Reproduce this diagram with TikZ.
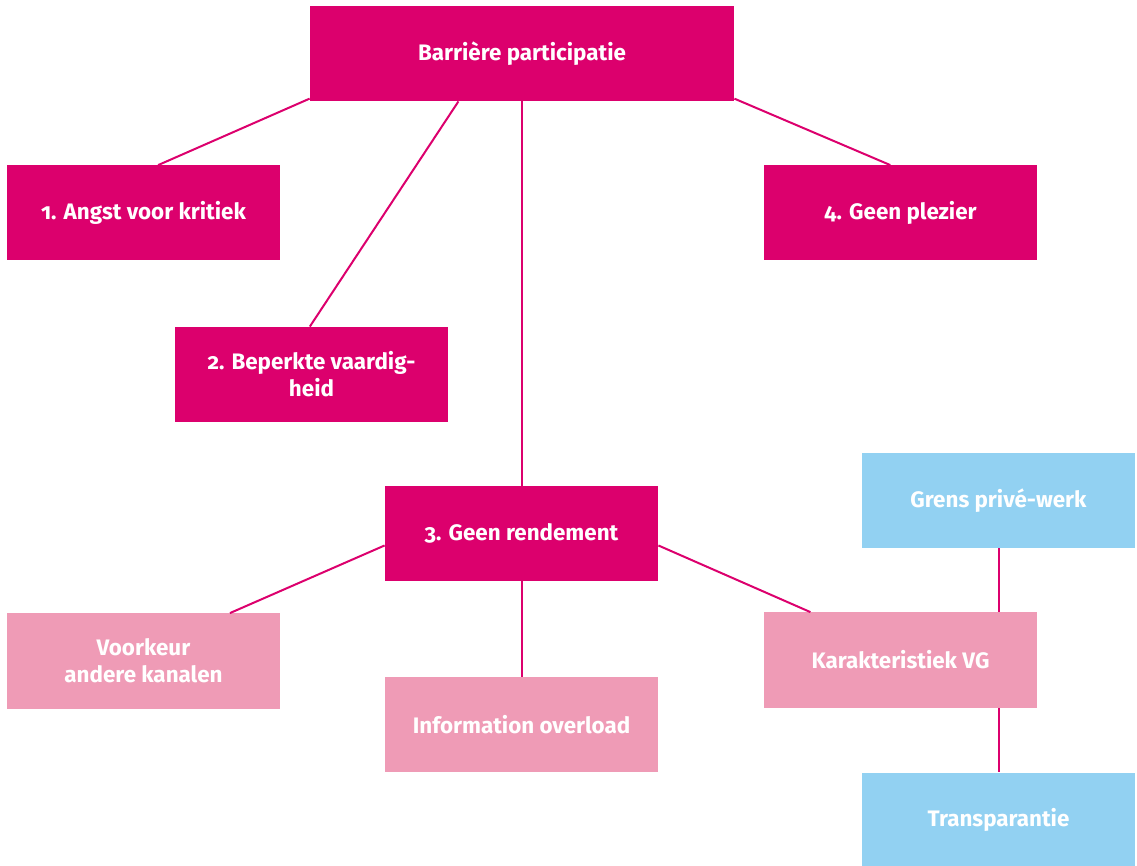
\documentclass[tikz,border=0pt]{standalone}
\usepackage{fontspec}
\setmainfont{Fira Sans}[Numbers=OldStyle]
\definecolor{magenta}{HTML}{DC006D}
\definecolor{roze}{HTML}{EF9BB6}
\definecolor{lichtblauw}{HTML}{92D1F2}
\tikzset{
  blok/.style={fill=magenta, text=white, font=\bfseries\fontsize{11.2}{13.5}\selectfont,
    minimum width=136.5pt, minimum height=47.5pt, align=center, inner sep=0pt},
  subblok/.style={blok, fill=roze},
  blauwblok/.style={blok, fill=lichtblauw},
  lijn/.style={draw=magenta, line width=1pt}
}
\begin{document}
\begin{tikzpicture}[x=0.5pt,y=-0.5pt]
\useasboundingbox (0,0) rectangle (1137,866);
\node[blok, minimum width=212pt] (top) at (522,53.5) {Barrière participatie};
\node[blok] (angst) at (143.5,213) {1. Angst voor kritiek};
\node[blok] (vaardig) at (311.5,374.5) {2. Beperkte vaardig-\\heid};
\node[blok] (rendement) at (521.5,533.5) {3. Geen rendement};
\node[blok] (plezier) at (900.5,213) {4. Geen plezier};
\node[subblok] (voorkeur) at (143.5,661) {Voorkeur\\andere kanalen};
\node[subblok] (overload) at (521.5,724.5) {Information overload};
\node[subblok] (karak) at (900.5,660) {Karakteristiek VG};
\node[blauwblok] (grens) at (998.5,500.5) {Grens privé-werk};
\node[blauwblok] (transp) at (998.5,820) {Transparantie};
% barrieres
\draw[lijn] (top.192) -- (angst.73);
\draw[lijn] (top.217) -- (vaardig.92);
\draw[lijn] (rendement.north |- top.south) -- (rendement.north);
\draw[lijn] (top.348) -- (plezier.102);
% rendement
\draw[lijn] (rendement.185) -- (voorkeur.29);
\draw[lijn] (rendement.south) -- (overload.north);
\draw[lijn] (rendement.355) -- (karak.152);
\draw[lijn] (grens.south) -- (grens.south |- karak.north);
\draw[lijn] (transp.north |- karak.south) -- (transp.north);
\end{tikzpicture}
\end{document}
